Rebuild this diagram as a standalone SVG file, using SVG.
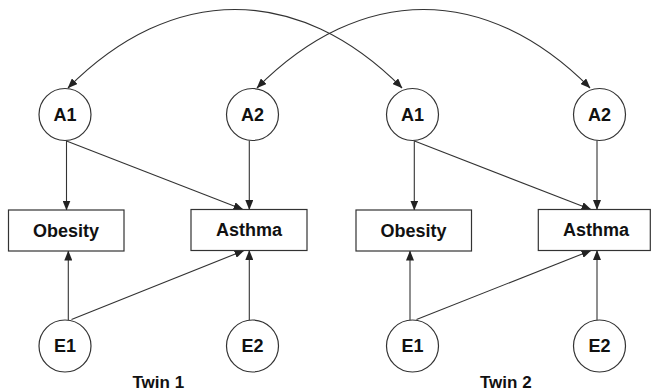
<svg xmlns="http://www.w3.org/2000/svg" width="651" height="392" viewBox="0 0 651 392">
<defs>
<style>
.n{fill:#fff;stroke:#333;stroke-width:1.2}
.t{font-family:"Liberation Sans",Arial,sans-serif;font-weight:bold;font-size:18px;fill:#111;text-anchor:middle}
.tw{font-size:17px}
.c{fill:none;stroke:#333;stroke-width:1.1}
</style>
<marker id="ah" markerUnits="userSpaceOnUse" markerWidth="10" markerHeight="8" refX="9.5" refY="4" orient="auto-start-reverse" viewBox="0 0 10 8">
<path d="M0,0 L10,4 L0,8 Z" fill="#222"/>
</marker>
</defs>
<rect width="651" height="392" fill="#fff"/>
<g id="connectors">
<path class="c" d="M68,88 C172,-16.7 298,-16.7 402,88" marker-start="url(#ah)" marker-end="url(#ah)"/>
<path class="c" d="M257,88 C361,-16.7 486,-16.7 590,88" marker-start="url(#ah)" marker-end="url(#ah)"/>
<line class="c" x1="66.5" y1="140.5" x2="66.5" y2="210" marker-end="url(#ah)"/>
<line class="c" x1="66.5" y1="141" x2="243" y2="209.5" marker-end="url(#ah)"/>
<line class="c" x1="249.3" y1="140.5" x2="249.3" y2="209.5" marker-end="url(#ah)"/>
<line class="c" x1="68.3" y1="320" x2="68.3" y2="251" marker-end="url(#ah)"/>
<line class="c" x1="71.5" y1="319.5" x2="244" y2="250.5" marker-end="url(#ah)"/>
<line class="c" x1="249.3" y1="320" x2="249.3" y2="250.5" marker-end="url(#ah)"/>
<line class="c" x1="414.3" y1="140.5" x2="414.3" y2="210" marker-end="url(#ah)"/>
<line class="c" x1="414.5" y1="141" x2="591" y2="209.5" marker-end="url(#ah)"/>
<line class="c" x1="597" y1="140.5" x2="597" y2="209.5" marker-end="url(#ah)"/>
<line class="c" x1="410" y1="320" x2="410" y2="251" marker-end="url(#ah)"/>
<line class="c" x1="416.5" y1="319.5" x2="591" y2="250.5" marker-end="url(#ah)"/>
<line class="c" x1="597" y1="320" x2="597" y2="250.5" marker-end="url(#ah)"/>
</g>
<g id="t1-A1"><circle class="n" cx="65" cy="114.5" r="26"/><text class="t" x="65" y="120.5">A1</text></g>
<g id="t1-A2"><circle class="n" cx="252.5" cy="114.5" r="26"/><text class="t" x="252.5" y="120.5">A2</text></g>
<g id="t1-Obesity"><rect class="n" x="8.5" y="210" width="115.5" height="41"/><text class="t" x="66" y="237">Obesity</text></g>
<g id="t1-Asthma"><rect class="n" x="191" y="209.5" width="116" height="41"/><text class="t" x="249" y="236">Asthma</text></g>
<g id="t1-E1"><circle class="n" cx="65" cy="346" r="26"/><text class="t" x="65" y="352">E1</text></g>
<g id="t1-E2"><circle class="n" cx="252.5" cy="346" r="26"/><text class="t" x="252.5" y="352">E2</text></g>
<g id="t2-A1"><circle class="n" cx="412.5" cy="114.5" r="26"/><text class="t" x="412.5" y="120.5">A1</text></g>
<g id="t2-A2"><circle class="n" cx="599.5" cy="114.5" r="26"/><text class="t" x="599.5" y="120.5">A2</text></g>
<g id="t2-Obesity"><rect class="n" x="356" y="210" width="115.5" height="41"/><text class="t" x="413.5" y="237">Obesity</text></g>
<g id="t2-Asthma"><rect class="n" x="538.3" y="209.5" width="112" height="41"/><text class="t" x="596" y="236">Asthma</text></g>
<g id="t2-E1"><circle class="n" cx="412.5" cy="346" r="26"/><text class="t" x="412.5" y="352">E1</text></g>
<g id="t2-E2"><circle class="n" cx="599.5" cy="346" r="26"/><text class="t" x="599.5" y="352">E2</text></g>
<g id="label-twin1"><text class="t tw" x="158.3" y="387.5">Twin 1</text></g>
<g id="label-twin2"><text class="t tw" x="505.8" y="387.5">Twin 2</text></g>
</svg>
